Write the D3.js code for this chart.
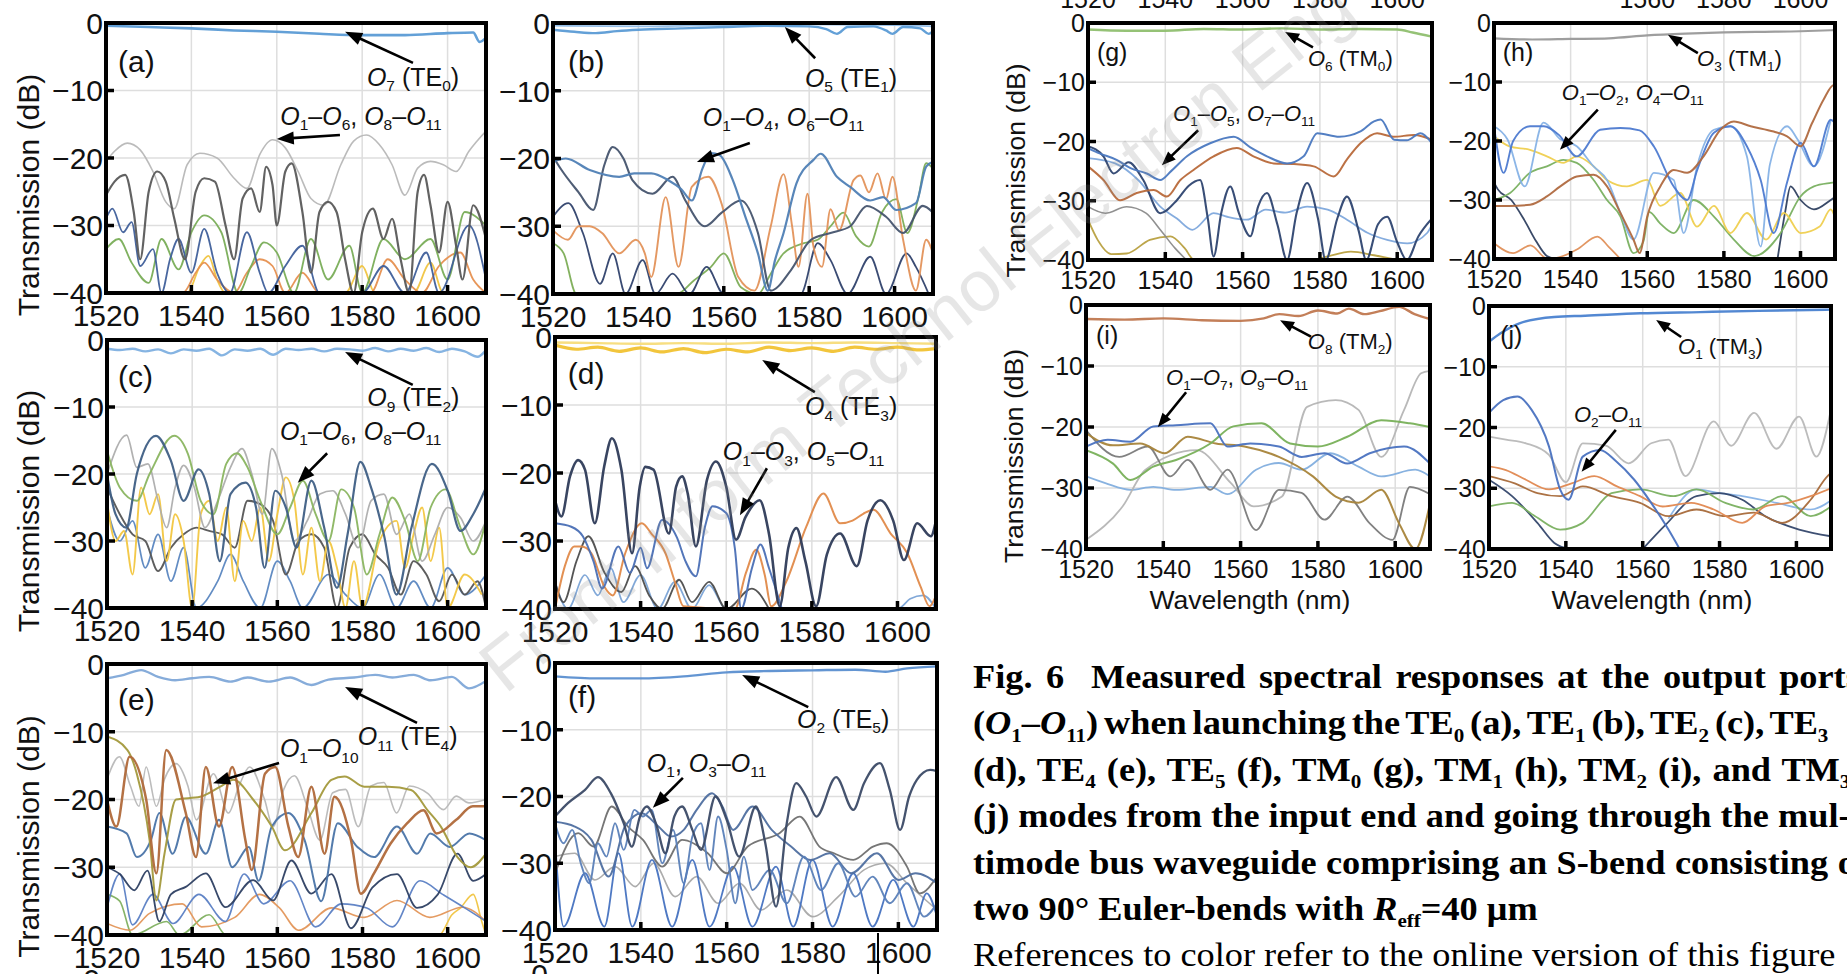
<!DOCTYPE html>
<html><head><meta charset="utf-8">
<script src="https://cdn.jsdelivr.net/npm/d3@7"></script>
<style>body{margin:0;background:#fff;overflow:hidden} svg{display:block} text{white-space:pre}</style>
</head><body>
<svg id="chart" width="1847" height="974"></svg>
<script>
// ---------- shared ticks ----------
const xTicks = [1520,1540,1560,1580,1600];
const yTicks = [0,-10,-20,-30,-40];
const xDomain = [1520,1609];
const yDomain = [-40,0];

// ---------- panel (a) ----------
const aMain = [[1520,-0.4],[1530,-0.6],[1540,-0.8],[1550,-1.1],[1560,-1.3],[1570,-1.6],[1580,-1.8],[1590,-1.8],[1600,-1.5],[1606,-1.4],[1607.5,-2.8],[1609,-2.2]];
const aGrayLight = [[1520,-20.5],[1522,-19],[1525,-17.8],[1528,-18.8],[1531,-22],[1534,-26.5],[1536,-27.5],[1539,-21],[1542,-19.3],[1546,-20],[1550,-23],[1553,-24.5],[1556,-19.5],[1559,-17.3],[1562,-18.5],[1565,-22],[1568,-26],[1571,-27],[1575,-21],[1578,-17.5],[1581,-16.6],[1584,-18],[1587,-21],[1590,-25.5],[1593,-21.5],[1596,-20.5],[1599,-21],[1602,-22],[1605,-19],[1609,-16]];
const aGrayDark = [[1520,-25.5],[1522,-23.5],[1524.5,-22.5],[1526.5,-28],[1528,-35],[1530,-25],[1532,-22],[1534,-23.5],[1536,-29],[1538.5,-35],[1541,-25],[1543,-23],[1545.5,-23.5],[1548,-30],[1550,-35],[1552,-26],[1554,-24.5],[1556,-28],[1557.5,-21.3],[1559,-24],[1560,-30],[1562,-22],[1563.5,-20.8],[1566,-28],[1568,-37],[1570,-28],[1572,-26.5],[1574,-28],[1576,-35],[1578,-40],[1580,-31],[1582.5,-27.5],[1585,-32],[1587,-29],[1589,-35],[1591,-40],[1593,-25],[1594.5,-22.5],[1596,-27],[1598,-34],[1600,-26.5],[1602,-33],[1603.5,-38],[1606,-27],[1609,-32]];
const aBlue = [[1520,-29],[1521.5,-27.5],[1524,-31],[1526,-29.5],[1528,-36],[1531,-33.5],[1533,-40],[1535,-35],[1537,-32],[1540,-37],[1543,-30.5],[1546,-37],[1549,-40],[1553,-31],[1556,-37],[1558,-40],[1562,-36],[1566,-33],[1570,-40],[1580,-40],[1585,-36],[1590,-40],[1595,-34],[1598,-40],[1605,-30],[1609,-38]];
const aGreen = [[1520,-33.5],[1523,-32],[1526,-35.5],[1530,-38.5],[1533,-32],[1537,-36.5],[1540,-31],[1543,-28.5],[1547,-31],[1551,-40],[1554,-36],[1557,-32.5],[1560,-34],[1564,-40],[1568,-32],[1572,-38],[1577,-33],[1580,-40],[1585,-32],[1590,-35],[1596,-32],[1600,-38],[1604,-28],[1609,-30]];
const aOrange = [[1520,-40],[1538,-40],[1541,-37],[1543,-35.5],[1546,-38],[1550,-40],[1553,-37],[1556,-35],[1559,-36],[1562,-40],[1566,-37],[1570,-40],[1582,-40],[1586,-35],[1590,-38],[1594,-40],[1598,-36],[1603,-34],[1606,-38],[1609,-40]];
const aYellow = [[1520,-40],[1539,-40],[1542,-36],[1544,-34.5],[1546,-38],[1548,-40],[1576,-40],[1580,-36],[1583,-40],[1592,-40],[1596,-35.5],[1599,-40],[1609,-40]];

// ---------- panel (b) ----------
const bMain = [[1520,-1],[1525,-1.3],[1530,-1.5],[1535,-1.2],[1540,-1],[1550,-0.8],[1560,-0.6],[1570,-0.4],[1580,-0.5],[1584,-0.9],[1586.5,-1.6],[1589,-0.6],[1595,-0.5],[1598,-1.1],[1599.5,-1.6],[1602,-0.6],[1606,-0.8],[1608,-1.6],[1609,-1.2]];
const bMain2 = [[1520,-0.4],[1540,-0.5],[1560,-0.3],[1580,-0.2],[1600,-0.3],[1609,-0.5]];
const bSteel = [[1520,-20.5],[1523,-20],[1528.6,-21.7],[1535.5,-22.7],[1539,-22.2],[1543,-22.2],[1547,-23.2],[1550,-24.5],[1552.5,-26.2],[1555,-21.5],[1557,-19.2],[1559,-19.5],[1562,-23],[1565,-28.5],[1568,-34],[1570.3,-39.5],[1572,-35],[1574,-31],[1577,-23.7],[1581,-20.2],[1582.7,-19.3],[1586.5,-22.7],[1589.6,-24.2],[1594.3,-26.2],[1597.3,-25.7],[1600.4,-27.6],[1605,-26.6],[1607.4,-21.2],[1609,-20.5]];
const bSlate = [[1520,-19.7],[1522,-21.7],[1526,-25],[1529.4,-27.6],[1532,-21],[1534,-18.3],[1536.5,-20],[1538.6,-23.2],[1543.3,-25.2],[1548,-22.7],[1551,-26.2],[1555.6,-30],[1559.5,-28],[1564,-26.2],[1568,-31],[1571,-39.5],[1575.7,-36.5],[1580.4,-32],[1585,-31],[1589.6,-30],[1593.5,-27],[1598,-28.6],[1602,-31],[1606.6,-27],[1609,-28]];
const bOrange = [[1520,-30.6],[1523.5,-32],[1526,-30],[1528.6,-30],[1531.5,-31],[1535.5,-34],[1539.4,-32],[1541.5,-34],[1543,-37.5],[1546.4,-25.7],[1549.4,-36],[1552.5,-24.2],[1556.4,-22.7],[1559.5,-26.7],[1563.4,-37.5],[1567.2,-39.5],[1571,-30],[1574,-22.3],[1576,-30],[1577.5,-36],[1579.6,-25.2],[1581,-33],[1583,-36],[1585,-27.5],[1587,-30.6],[1590.4,-23.2],[1592,-22.5],[1594,-25],[1596,-22.2],[1598,-26],[1599.5,-22.7],[1602,-32],[1605,-39.5],[1607.4,-32],[1609,-34]];
const bNavy = [[1520,-28.6],[1523.6,-26.6],[1527,-31],[1531,-38.5],[1534,-34],[1537,-40],[1541,-35],[1544,-40],[1548,-37],[1552,-40],[1556,-36],[1560,-40],[1578,-40],[1582,-32.5],[1585,-35],[1589,-40],[1594.3,-34.5],[1598,-40],[1602.8,-34],[1605,-36],[1608,-40]];
const bGreen = [[1520,-32.5],[1522.5,-34],[1525.5,-40],[1549,-40],[1553,-38],[1557,-36],[1560,-34],[1564,-39],[1568,-40],[1571,-37],[1574,-34],[1578.8,-32.5],[1582,-32],[1585,-30],[1588,-28],[1591,-31.5],[1594,-33],[1597,-28],[1600.4,-26],[1603,-31],[1605.5,-26],[1607.4,-20.7],[1609,-21.5]];

// ---------- panel (c) ----------
const cMain = [[1520,-1.3],[1523,-1.5],[1526,-1.3],[1529,-1.7],[1532,-1.4],[1535,-2],[1538,-1.4],[1541,-1.6],[1544,-1.3],[1547,-2.3],[1550,-1.4],[1553,-1.6],[1556,-1.3],[1559,-2.2],[1562,-1.3],[1565,-1.5],[1568,-1.3],[1571,-1.7],[1574,-1.3],[1577,-1.4],[1580,-1.6],[1583,-1.2],[1586,-1.7],[1589,-1.3],[1592,-1.6],[1595,-1.2],[1598,-1.8],[1601,-1.3],[1604,-1.7],[1607,-2.5],[1609,-1.5]];
const cSteel = [[1520,-20],[1522,-26],[1524.5,-28],[1527,-20],[1531.5,-14.3],[1535,-18],[1538,-24],[1541.5,-19.3],[1544,-23],[1546.5,-33],[1549,-23],[1552.5,-21.3],[1555,-25],[1557,-34],[1559.5,-22.5],[1562,-25],[1564.5,-31],[1568,-21],[1571,-28],[1574,-37],[1576.5,-29],[1579.5,-18.2],[1582,-22],[1585,-29],[1588,-38],[1591.5,-28],[1596.3,-18.5],[1600,-22.5],[1603,-28.5],[1606,-26],[1609,-22]];
const cGreen = [[1520,-16.5],[1523,-22],[1527,-24],[1530,-20],[1535.8,-14.3],[1539,-17],[1542,-24],[1545,-26],[1548,-18.5],[1550.5,-16.9],[1553,-19],[1556,-24],[1560,-29],[1563,-25],[1566,-21],[1569,-26],[1572,-30],[1575,-22.3],[1578,-25],[1581,-35],[1584,-29],[1587,-23.5],[1590,-27],[1593,-33],[1596,-25],[1599.5,-22.3],[1603,-28],[1606,-32],[1609,-27]];
const cGrayLight = [[1520,-20],[1524.6,-14.2],[1527,-19],[1529.6,-18.5],[1532,-24],[1534,-28],[1536,-22],[1538,-18.7],[1540.5,-22],[1543,-28],[1546,-24],[1549,-19],[1551.7,-16.2],[1554,-20],[1556.5,-26],[1558.7,-16.2],[1561,-20],[1564,-30],[1567,-27],[1570,-23],[1573,-22.5],[1576,-26],[1579,-31],[1582,-24],[1585,-23],[1588,-29],[1591,-26],[1594,-33],[1597,-29],[1600,-25],[1603,-26.5],[1606,-30],[1609,-27]];
const cYellow = [[1520,-24],[1522,-30],[1524,-28.5],[1526,-35],[1528,-22],[1530,-26],[1532,-23],[1534,-33],[1536,-26],[1538,-30],[1540,-40],[1542,-26],[1544,-24],[1546,-30],[1548,-25],[1550,-36],[1552,-27],[1554,-30],[1556,-25],[1558,-33],[1560,-26],[1562,-20.5],[1564,-24],[1566,-35],[1568,-28],[1570,-36],[1572,-30],[1574,-34],[1576,-40],[1578,-33],[1580,-40],[1584,-30],[1588,-27],[1590,-34],[1592,-29],[1594,-25],[1596,-33],[1598,-28],[1600,-40],[1604,-35],[1608,-38]];
const cGrayDark = [[1520,-22],[1523,-26],[1526,-29],[1529,-30],[1532,-34.5],[1535,-31],[1538,-29],[1541,-28],[1544,-28.5],[1547,-29],[1550,-31],[1553,-24],[1556,-24.5],[1559,-27],[1562,-35],[1565,-30],[1568,-29],[1571,-31],[1574,-40],[1577,-31],[1580,-29],[1583,-32],[1586,-34],[1589,-38],[1592,-33],[1595,-35],[1598,-39],[1601,-35],[1604,-38],[1607,-36],[1609,-40]];
const cBlue = [[1520,-25],[1523,-30],[1526,-27],[1529,-34],[1532,-29],[1535,-36],[1538,-31],[1541,-40],[1546,-36],[1549,-32],[1552,-36],[1556,-40],[1560,-33],[1563,-36],[1566,-40],[1572,-35],[1576,-38],[1580,-40],[1584,-35],[1588,-40],[1592,-36],[1596,-40],[1600,-34],[1604,-38],[1609,-35]];

// ---------- panel (d) ----------
const dMain = [[1520,-1.2],[1525,-1.8],[1530,-1.5],[1535,-2.1],[1540,-1.6],[1545,-2.2],[1550,-1.7],[1555,-2.3],[1560,-1.8],[1565,-2.2],[1570,-1.5],[1575,-2],[1580,-1.6],[1585,-2.1],[1590,-1.5],[1595,-1.8],[1600,-1.5],[1605,-1.9],[1609,-1.7]];
const dMain2 = [[1520,-0.8],[1530,-0.9],[1540,-1],[1550,-0.9],[1560,-1],[1570,-0.8],[1580,-0.9],[1590,-0.8],[1600,-0.9],[1609,-1]];
const dNavy = [[1520,-24],[1521.5,-26.4],[1523.5,-20.5],[1525.4,-18.1],[1527,-19.5],[1529.3,-27.4],[1531.5,-19],[1533.3,-14.9],[1535.5,-19.5],[1538,-31.8],[1539.8,-22],[1541.1,-19.1],[1543,-19.5],[1546.6,-28.9],[1548.3,-22],[1549.7,-20.5],[1551,-23],[1552.9,-30.8],[1555.5,-21],[1557.6,-18.3],[1560,-22],[1562.3,-29.8],[1564.5,-26.5],[1567.8,-24],[1570,-29],[1572.5,-39.6],[1574.5,-31],[1576.4,-28.1],[1578.5,-33],[1581,-39.6],[1583.5,-32],[1586.6,-28.9],[1590.5,-33.7],[1593,-27],[1596,-24],[1599,-27],[1601.5,-32.8],[1604.6,-27.4],[1607.8,-29.3],[1609,-27]];
const dBlue = [[1520,-27.4],[1523.8,-27.9],[1526.5,-29.3],[1529,-33],[1531,-37],[1534.8,-30.8],[1537.5,-34.7],[1540,-31],[1541.5,-34],[1545,-26.9],[1548.5,-29.5],[1550.5,-33],[1552.9,-35.2],[1555,-28],[1556.8,-24.9],[1560,-25.9],[1562,-31],[1563.5,-40],[1566,-34],[1568,-30.5],[1570,-34],[1573,-40]];
const dOrange = [[1520,-40],[1522.3,-33.7],[1524.5,-30.8],[1526.2,-30.8],[1528.5,-31.8],[1531.5,-36.7],[1533.5,-38],[1536.4,-31.8],[1540.3,-27.4],[1542.5,-28.9],[1545.8,-31.8],[1548,-36],[1550,-39.6],[1562,-40],[1564.6,-34.7],[1567,-31.3],[1569,-35],[1570.5,-39.6],[1574,-36],[1578.7,-27.9],[1582.7,-23],[1586.6,-27.4],[1589.5,-27],[1592,-26],[1594.4,-25.4],[1598.4,-28.9],[1602.3,-31.8],[1605.4,-36.7],[1607.5,-39.6],[1609,-38]];
const dGray = [[1520,-36],[1522,-39],[1525,-33],[1527.8,-29.3],[1531.6,-34.7],[1535.5,-37.5],[1538.7,-33.7],[1542,-38],[1545,-40],[1549,-35.7],[1552,-39],[1556,-36],[1560,-40],[1566,-37],[1570,-40]];
const dLightBlue = [[1520,-36],[1523,-40],[1527,-35],[1530,-38],[1533,-34],[1536,-39],[1540,-35],[1544,-40],[1548,-36],[1552,-40],[1556,-36.5],[1560,-40],[1600,-40],[1603,-38.5],[1606,-38],[1609,-40]];

// ---------- panel (e) ----------
const eMain = [[1520,-2.1],[1524,-1.6],[1528,-0.9],[1532,-1.9],[1536,-2.4],[1540,-2.1],[1544,-1.9],[1549,-2.6],[1553,-2],[1558,-2.6],[1563,-2],[1568,-3.1],[1572,-2.3],[1578,-2],[1583,-1.6],[1587,-2],[1592,-1.6],[1596,-2.4],[1601,-1.9],[1605,-3.6],[1609,-2.5]];
const eBrown = [[1520,-20],[1522.2,-24],[1525.3,-13.7],[1529.2,-20],[1531.6,-30.9],[1533.9,-12.7],[1538.5,-22],[1540.9,-28.5],[1543.2,-15.2],[1546.3,-24],[1549.4,-15.2],[1552.5,-26],[1554,-30.4],[1557.1,-16.2],[1559.5,-15.2],[1562.6,-24],[1564.9,-28.5],[1568,-18.1],[1571.1,-28],[1573.4,-19.6],[1577.3,-26],[1579.6,-33.9],[1582.7,-30.9],[1586.6,-26.5],[1590.5,-23.5],[1594.3,-21.6],[1597.4,-25],[1602,-23],[1605.9,-21],[1609,-21]];
const eOlive = [[1520,-10.7],[1524.8,-12.7],[1527,-16.2],[1530,-26],[1531.6,-34.9],[1533.5,-28],[1536.2,-20],[1541.9,-19.6],[1546.6,-18.1],[1549.7,-17.1],[1554.3,-20],[1558.7,-24],[1561.8,-27.5],[1568,-22],[1572.7,-17.1],[1575.8,-16.6],[1580.4,-18.1],[1586,-18.1],[1591.4,-18.6],[1595.3,-21.6],[1598.4,-24],[1602.3,-28.5],[1605.4,-30],[1609,-28]];
const eGrayLight = [[1520,-17],[1522.9,-13.7],[1525.5,-18],[1527.5,-21],[1529.2,-15.2],[1531.6,-21],[1533.5,-17],[1536.2,-14.7],[1539,-18],[1541,-23],[1545,-16.2],[1548.5,-22],[1551,-18],[1553.5,-15.2],[1557,-20],[1559,-24],[1561.5,-18.5],[1564,-16.5],[1567,-21],[1570,-26],[1573,-19],[1576,-18.5],[1579,-24],[1582,-18],[1585,-17.5],[1588,-22],[1591,-18],[1595.3,-19.1],[1599,-21.5],[1602,-19.5],[1605,-20.5],[1609,-20]];
const eSteel = [[1520,-24],[1524.6,-25],[1527,-28.5],[1530.3,-26],[1532.3,-22],[1535.4,-28],[1538.5,-22.6],[1543.2,-28],[1546.3,-23],[1549.4,-30],[1553.3,-27],[1555.6,-32],[1558.7,-24],[1562.6,-22],[1566.4,-26],[1570.3,-35],[1574.2,-23.5],[1578.8,-27],[1582.7,-28.5],[1588.1,-24],[1592.8,-28],[1595.9,-25],[1600.5,-27],[1605.1,-25],[1609,-26]];
const eNavy = [[1520,-30],[1523,-31],[1526.4,-33.4],[1529.5,-30.5],[1532.3,-38],[1535,-34],[1538.5,-32.9],[1543.2,-30.9],[1547.8,-35.9],[1554.3,-31.9],[1559,-34.9],[1563.3,-29],[1568,-33.9],[1572.7,-31],[1577.3,-39],[1582.3,-33],[1588.1,-31],[1592.8,-36],[1597.7,-34],[1602.3,-28],[1606,-32],[1609,-31]];
const eBlue = [[1520,-36],[1523,-31],[1526,-38.5],[1530.8,-34],[1535.5,-38.3],[1541.6,-34],[1547.8,-38],[1552.2,-31],[1556.8,-35.4],[1563,-32],[1569,-38.8],[1575,-35.4],[1581,-36],[1587,-38.8],[1593.5,-32],[1598.8,-34],[1604,-36],[1609,-38]];
const eOrange = [[1520,-38.3],[1525.4,-39.3],[1530,-36.8],[1537.7,-35.4],[1542.2,-38.8],[1550,-37.4],[1555.8,-34],[1560.5,-36],[1565,-39.3],[1572.7,-36],[1580.4,-37.4],[1588.1,-34.9],[1595.8,-37.4],[1603.5,-35.9],[1609,-38]];
const eGreen = [[1520,-34],[1523,-35],[1526,-40],[1534,-38],[1537,-40],[1544,-37],[1548,-40],[1609,-40]];
const eYellow = [[1520,-40],[1598,-40],[1601,-37],[1603,-36],[1606,-34],[1608,-38],[1609,-40]];

// ---------- panel (f) ----------
const fMain = [[1520,-2],[1530,-2.3],[1540,-2.3],[1550,-2],[1560,-1.4],[1570,-1.2],[1580,-1.1],[1590,-1],[1597,-1.3],[1602,-0.8],[1609,-0.5]];
const fSlate = [[1520,-23],[1523,-21],[1527,-19],[1530,-17.1],[1533,-19.5],[1536,-24],[1537.9,-27.5],[1539.8,-23],[1541.4,-21.5],[1543.5,-24],[1545.7,-28.5],[1547.8,-23],[1549.6,-21.5],[1552,-25],[1554,-28],[1557.4,-20],[1560,-23.5],[1562.9,-29],[1566.8,-21.5],[1569,-27],[1571.5,-36.5],[1574,-24],[1576.2,-18],[1578.5,-20],[1580.9,-23],[1585.5,-17.1],[1589.5,-22],[1592,-18],[1595.7,-15],[1598,-19],[1600.4,-25],[1602.5,-20],[1604.3,-17.5],[1607.4,-16],[1609,-16.2]];
const fSteel = [[1520,-23.8],[1524.6,-24.5],[1528.5,-26.5],[1532.5,-32],[1536.3,-24.5],[1540.2,-22.5],[1544.1,-24.5],[1547,-26],[1550,-25],[1553,-22],[1556.6,-19.5],[1559,-21.5],[1561.5,-25],[1566,-21.5],[1570.5,-25],[1575,-27.5],[1579.5,-29.5],[1584,-28.5],[1589,-31.5],[1595,-28.5],[1600,-32.5],[1604,-31.5],[1609,-33]];
const fSteel2 = [[1520,-24],[1522,-27],[1524,-25],[1526,-30],[1528,-33],[1530,-27],[1532,-29],[1534,-24],[1536,-28],[1538.5,-22],[1540.5,-23],[1542.5,-22],[1545,-30],[1547.5,-25],[1550,-33],[1552,-26],[1554,-24],[1556,-31],[1558,-23],[1560,-28],[1562,-36],[1564,-29],[1566,-34],[1570,-31],[1574,-36],[1578,-29],[1582,-34],[1586,-30],[1590,-35],[1594,-32],[1598,-36],[1602,-33],[1606,-38],[1609,-36]];
const fGray = [[1520,-31.5],[1525.4,-25.5],[1529,-27.5],[1533.2,-21.5],[1537,-24.5],[1540.5,-26.5],[1545,-30.5],[1549.6,-26.5],[1555.6,-28.5],[1560,-31.5],[1564.9,-27.5],[1572.3,-25.5],[1577,-23],[1581.6,-27.5],[1585,-28.5],[1589.5,-29.5],[1594.1,-27.5],[1597.3,-27],[1602,-30.5],[1605,-34.5],[1609,-32]];
const fBlue = [[1520,-26.5],[1522,-39.5],[1527,-31.5],[1531.5,-39.5],[1534.8,-28.5],[1538,-39.5],[1542.6,-29.5],[1547.3,-39.5],[1552,-29.5],[1556,-39.5],[1561.5,-30.5],[1566,-39.5],[1571.5,-30.5],[1575.5,-39.5],[1580,-29.5],[1584.7,-39.5],[1589.5,-31.5],[1594,-39.5],[1598.8,-32.5],[1603.5,-39.5],[1606.6,-34.5],[1609,-38]];
const fGrayLight = [[1520,-29],[1524.6,-28.5],[1529.3,-32.5],[1534,-30.5],[1538.7,-33.5],[1543,-30],[1548,-35],[1553,-32],[1558,-36],[1563,-33],[1568,-37],[1574,-34],[1580,-38],[1586,-35],[1592,-31],[1597,-30],[1602,-33],[1609,-37]];

// ---------- panel (g) ----------
const gMain = [[1520,-1.1],[1530,-1.3],[1540,-1.3],[1550,-1],[1560,-1.1],[1570,-0.9],[1580,-1.1],[1590,-1],[1600,-1.1],[1604,-1.6],[1609,-2.3]];
const gBlue = [[1520,-21.1],[1523,-22],[1527.4,-23.1],[1531,-24.5],[1535.2,-25.4],[1538.7,-26.5],[1541.5,-25],[1545.6,-22.5],[1551.6,-20.3],[1557.7,-19.2],[1562,-21],[1566.3,-22.5],[1571.5,-23.7],[1575.8,-22.5],[1579.3,-18.6],[1585,-19.2],[1590.5,-18.3],[1594,-16.6],[1595.7,-16.3],[1599.2,-19.7],[1602.5,-19.8],[1606,-18.6],[1609,-20.3]];
const gBrown = [[1520,-24.2],[1524,-26.5],[1528.3,-29.9],[1532.6,-28.7],[1537,-28.2],[1540.4,-29.3],[1543.9,-26.5],[1547.3,-24.8],[1552.5,-22.5],[1558.5,-21.1],[1562.8,-22.5],[1568,-23.7],[1573,-23.8],[1578.4,-24.2],[1583.6,-25.9],[1587,-23],[1590.5,-20.3],[1594.8,-18.6],[1599,-19.2],[1604.4,-18.9],[1609,-19.7]];
const gNavy = [[1520,-20.8],[1524,-22.5],[1526.6,-25.4],[1530.5,-23.5],[1534.3,-26.5],[1538.7,-32.1],[1543,-29.9],[1546,-27.5],[1549,-26.5],[1551,-33],[1552.5,-39.4],[1554.5,-32],[1556.8,-27.6],[1559,-32],[1562,-36],[1564,-31],[1566.3,-28.7],[1569,-34],[1571.5,-40],[1574,-32],[1576.7,-27],[1579.5,-33],[1581.5,-40],[1584.5,-33],[1587,-29.3],[1590,-35],[1592,-40],[1595,-34],[1597.4,-32.7],[1600,-37],[1602.5,-40],[1605.5,-36],[1609,-33]];
const gLightBlue = [[1520,-22.8],[1527,-23.7],[1533,-26.5],[1538.7,-31],[1543,-33],[1547,-34.9],[1552.5,-32.1],[1556,-32.7],[1561.1,-33.2],[1566,-31.5],[1571,-32],[1576.7,-31],[1582,-31.5],[1587,-33.2],[1592.3,-35.4],[1597.4,-36.6],[1602.6,-37.2],[1607.8,-35.4],[1609,-34]];
const gGray = [[1520,-31],[1524.5,-32.1],[1530,-31],[1535,-32.1],[1538.7,-34.9],[1542.5,-38],[1545.5,-40]];
const gOlive = [[1520,-33.2],[1522.5,-36.6],[1526,-39],[1530,-38.9],[1536,-36.6],[1541.3,-36],[1545,-38],[1547.5,-40],[1578,-40],[1582,-39.4],[1588,-38.6],[1594,-39.2],[1600,-40]];

// ---------- panel (h) ----------
const hMain = [[1520,-2.6],[1530,-2.8],[1540,-2.7],[1550,-2.6],[1560,-2.1],[1570,-1.8],[1580,-1.6],[1590,-1.5],[1600,-1.4],[1609,-1.2]];
const hBrown = [[1520,-31],[1524,-31],[1529.4,-30.8],[1533.8,-29.4],[1537.3,-27.7],[1541.6,-26],[1546,-25.7],[1549.5,-27.7],[1553,-32.2],[1556.4,-36.7],[1558,-39],[1560,-32.8],[1563.4,-27.7],[1566.9,-24.9],[1570.4,-25.4],[1574.7,-22.6],[1579.1,-18.1],[1582.6,-16.7],[1587,-17.5],[1593,-18.4],[1596.5,-19.2],[1600,-20.9],[1603,-17],[1606,-13],[1608.7,-10.5],[1609,-10.8]];
const hBlue = [[1520,-17.5],[1522.5,-25.4],[1525,-20],[1529.4,-17.5],[1533,-17.5],[1537,-19],[1541.6,-22.6],[1547.7,-18.1],[1553,-17.8],[1558,-18.2],[1561.7,-20.9],[1566.9,-27.7],[1570.4,-30],[1573,-25],[1577.4,-18.6],[1581.7,-17.5],[1586,-20.9],[1589.6,-26.6],[1593,-35.6],[1596.5,-27],[1600,-20.3],[1603.5,-24.3],[1607.9,-16.4],[1609,-17]];
const hLightBlue = [[1520,-17.5],[1523.5,-19.7],[1528,-27.7],[1532.9,-16.9],[1537.3,-19.7],[1541.6,-20.9],[1546,-24.3],[1549.5,-26.6],[1553,-32.2],[1556.4,-36.7],[1561.7,-25.4],[1566.9,-26.6],[1569.5,-35.6],[1573,-24.3],[1577.4,-18.1],[1581.7,-17.5],[1586,-22.6],[1589.6,-37.9],[1592,-24],[1596.5,-17.5],[1599.2,-19.7],[1603.5,-24.3],[1607.9,-16.4]];
const hYellow = [[1520,-19.2],[1524,-20.9],[1529.4,-21.5],[1533.8,-22.6],[1538.1,-23.7],[1541.6,-22.6],[1546,-24.3],[1549.5,-26.6],[1554.7,-27.7],[1560,-26.6],[1563.4,-31],[1568.6,-28.8],[1573,-34.5],[1577.4,-31],[1581.7,-35.6],[1586,-32.2],[1591,-36.7],[1595.7,-32.2],[1600,-35.6],[1605,-34.5],[1607.9,-31.6],[1609,-33]];
const hGreen = [[1520,-30],[1524.2,-28.8],[1529.4,-25.4],[1533.8,-24.3],[1538.1,-23.2],[1541.6,-23.7],[1546,-26.6],[1549.5,-30],[1553,-32.8],[1556.4,-39],[1559,-37],[1560.5,-32],[1563.4,-34],[1566.9,-35.6],[1572.1,-30],[1577.4,-32.8],[1582.6,-36.7],[1587.9,-39.5],[1594.8,-35.6],[1600,-29.4],[1603.5,-27.7],[1607.9,-27.1],[1609,-27]];
const hNavy = [[1520,-27],[1521,-28.2],[1524.5,-30],[1528,-33.5],[1531,-37],[1533.8,-39.5],[1536,-40]];
const hNavy2 = [[1594,-40],[1596,-32],[1597.4,-27.7],[1600,-30],[1603.5,-31.6],[1607.9,-30],[1609,-29.5]];
const hOrange = [[1520,-37.3],[1525,-39],[1529.5,-37.7],[1534,-40],[1538,-39.5],[1541.6,-38.4],[1547,-36.2],[1550,-38],[1553,-40]];

// ---------- panel (i) ----------
const iMain = [[1520,-2.3],[1530,-2.4],[1540,-2.2],[1550,-2.5],[1560,-2.6],[1566,-2.2],[1570,-1.5],[1575,-1.8],[1580,-0.9],[1585,-1.4],[1588,-0.6],[1592,-1.5],[1596,-1],[1601,-0.3],[1605,-1.5],[1609,-2.3]];
const iBlue = [[1520,-23.2],[1525.6,-22.1],[1531.5,-22.4],[1537.4,-19.9],[1543.3,-19.7],[1552.2,-19.4],[1556.6,-23.2],[1562.5,-22.7],[1569.9,-23.2],[1575.8,-24.9],[1581.7,-24.3],[1587.6,-26],[1593.4,-24.3],[1602.3,-23.2],[1609,-26]];
const iGreen = [[1520,-23.8],[1527,-26],[1531.5,-28.7],[1537.4,-26.5],[1543.3,-25.4],[1552.2,-22.7],[1558.1,-19.9],[1565.4,-19.4],[1572.8,-22.7],[1580,-23.2],[1587.6,-21.6],[1596.4,-18.9],[1603.8,-19.4],[1609,-20]];
const iOlive = [[1520,-21],[1527,-23],[1534,-22.7],[1540.4,-24.3],[1546.3,-21.6],[1553.6,-22.7],[1561,-23.2],[1569.9,-24.9],[1578.7,-28.1],[1584.6,-31.4],[1590.5,-32.4],[1596.4,-30.3],[1601,-35.8],[1605.2,-40],[1609,-32.5]];
const iGray = [[1520,-20.5],[1528.6,-24.9],[1536,-23.2],[1541.8,-28.1],[1546.3,-25.4],[1552.2,-30.3],[1556.6,-27],[1564,-36.9],[1569.9,-30.3],[1575.8,-30.8],[1581.7,-35.2],[1587.6,-31.4],[1593.4,-35.8],[1599.3,-38.5],[1603.8,-29.8],[1609,-31]];
const iGrayLight = [[1520,-38.5],[1529.5,-33],[1535.4,-27],[1548.6,-23.8],[1557.5,-29.2],[1563.4,-33],[1570.7,-31.4],[1577.2,-16.7],[1584.6,-15.6],[1590.5,-17.2],[1596.4,-24.9],[1602.3,-17.2],[1606.7,-11.2],[1609,-10.8]];
const iLightBlue = [[1520,-28.1],[1525,-29.2],[1531.5,-30.3],[1537.4,-29.8],[1543.3,-30.3],[1552.2,-29.8],[1556.6,-31],[1564,-27],[1569.9,-25.9],[1575.8,-27],[1583.2,-24.3],[1590.5,-26.5],[1596.4,-28.1],[1605.2,-27],[1609,-28.1]];

// ---------- panel (j) ----------
const jMain = [[1520,-5.9],[1523,-4.5],[1528.1,-2.8],[1537,-1.8],[1545,-1.6],[1559.3,-1.2],[1575,-1],[1590,-0.8],[1609,-0.6]];
const jBlue = [[1520,-17.6],[1523.7,-15.5],[1527.4,-14.9],[1531.1,-17.1],[1535.6,-23.1],[1538.5,-30.2],[1540.7,-31.9],[1544.4,-24.8],[1548.9,-23.7],[1553,-25.5],[1557.8,-28.6],[1562.2,-32.4],[1566.7,-36.8],[1569.6,-40]];
const jGrayLight = [[1520,-21.5],[1524.4,-22],[1529.6,-22.6],[1535.6,-24.5],[1540,-29],[1544.4,-22.6],[1550.4,-23],[1556.3,-25.9],[1562.2,-22.6],[1566.7,-22],[1571.1,-28],[1578.5,-19],[1583,-23],[1589,-17.6],[1594.8,-23.5],[1600.7,-18.2],[1605.2,-24.8],[1609,-17]];
const jOrange = [[1520,-26.4],[1524.4,-27],[1529.6,-28.6],[1535.6,-30.2],[1541.5,-29.2],[1547.4,-28],[1553.3,-29.7],[1559.3,-31.3],[1565.2,-33],[1572.6,-32.4],[1578.5,-33.5],[1585.9,-35.7],[1591.9,-33],[1597.8,-32.4],[1603.7,-31.3],[1609,-30]];
const jBrown = [[1520,-28],[1526.7,-29.2],[1532.6,-30.8],[1538.5,-31.3],[1544.4,-29.7],[1551.9,-31.3],[1559.3,-32.4],[1566.7,-34.6],[1574,-33.5],[1581.5,-34.6],[1588.9,-34],[1596.3,-35.7],[1603.7,-31.9],[1608.1,-28],[1609,-27.5]];
const jGreen = [[1520,-33],[1526,-32.4],[1532,-34.6],[1538.5,-36.8],[1544.4,-35.7],[1551.9,-30.8],[1559.3,-30.2],[1568,-31.3],[1574,-30.2],[1581.5,-32.4],[1588.9,-33.5],[1596.3,-31.3],[1603.7,-34.6],[1609,-33]];
const jNavy = [[1520,-28.6],[1526,-31.3],[1532.6,-35.7],[1537,-39],[1541,-40]];
const jNavy2 = [[1560,-40],[1566,-36],[1574,-31.3],[1580,-30.8],[1585.9,-31.9],[1591.9,-34.6],[1600.7,-36.8],[1609,-37.9]];
const jLightBlue = [[1566.7,-35],[1574,-30.2],[1580,-30.8],[1585.9,-31.3],[1594.8,-32.4],[1603.7,-33.5],[1609,-32]];

// ---------- caption ----------
const captionLines = [
 "Fig. 6  Measured spectral responses at the output ports",
 "(O_1–O_11) when launching the TE_0 (a), TE_1 (b), TE_2 (c), TE_3",
 "(d), TE_4 (e), TE_5 (f), TM_0 (g), TM_1 (h), TM_2 (i), and TM_3",
 "(j) modes from the input end and going through the mul-",
 "timode bus waveguide comprising an S-bend consisting of",
 "two 90° Euler-bends with R_eff=40 μm",
 "References to color refer to the online version of this figure"
];
const captionWordSpacing = [4.4, -3.2, 2, 0, 0.4, 0, 0];

// ---------- panel layout ----------
const panels = [
 {box:[106,23,486,293], big:true, yTitle:true, label:['(a)',1522.8,-7.3],
  main:['O_7 (TE_0)',1581.1,-9.3, 1591.9,-5.9, 1576.0,-1.3], xt:['O_1–O_6, O_8–O_11',1560.8,-15.1, 1574.8,-16.6, 1560.0,-17.2],
  curves:[[aGrayLight,'#b7b7b7',1.6],[aYellow,'#f0c441',1.8],[aOrange,'#e69050',1.8],[aGreen,'#79ad57',1.8],[aBlue,'#3f5f9a',1.8],[aGrayDark,'#5a5a5a',2.2],[aMain,'#5b9bd5',2.6]]},
 {box:[553,23,933,294], big:true, yTitle:false, label:['(b)',1523.5,-7.2],
  main:['O_5 (TE_1)',1579.0,-9.4, 1581.4,-5.2, 1574.3,-0.6], xt:['O_1–O_4, O_6–O_11',1555.1,-15.2, 1566.1,-17.7, 1553.7,-20.5],
  curves:[[bGreen,'#7cad56',1.8],[bNavy,'#2f416b',1.8],[bOrange,'#e3925a',1.9],[bSlate,'#46546e',2.1],[bSteel,'#4f7fb5',2.2],[bMain2,'#8fbbe6',1.8],[bMain,'#5b9bd5',2.4]]},
 {box:[107,340,486,608], big:true, yTitle:true, label:['(c)',1522.6,-7.0],
  main:['O_9 (TE_2)',1581.1,-9.9, 1591.8,-6.7, 1575.9,-1.8], xt:['O_1–O_6, O_8–O_11',1560.6,-14.9, 1571.7,-16.9, 1564.8,-21.3],
  curves:[[cBlue,'#5a86c0',1.7],[cGrayDark,'#555555',1.9],[cYellow,'#f2c640',1.9],[cGrayLight,'#adadad',1.7],[cGreen,'#8ab560',1.9],[cSteel,'#3f5f85',2.2],[cMain,'#7fb0e0',2.4]]},
 {box:[555,337,936,609], big:true, yTitle:false, label:['(d)',1523.0,-6.9],
  main:['O_4 (TE_3)',1578.4,-11.5, 1580.7,-8.1, 1568.4,-3.4], xt:['O_1–O_3, O_5–O_11',1559.2,-18.1, 1569.5,-19.3, 1563.2,-26.2],
  curves:[[dLightBlue,'#7aa3d6',1.7],[dGray,'#4c4c4c',1.8],[dOrange,'#e08a4a',2],[dBlue,'#4a6fb5',2],[dNavy,'#2e3b58',2.6],[dMain2,'#f7dc7a',2.4],[dMain,'#f1c232',3.2]]},
 {box:[107,664,486,935], big:true, yTitle:true, label:['(e)',1522.6,-6.8],
  main:['O_11 (TE_4)',1578.9,-12.0, 1592.8,-8.7, 1575.9,-3.4], xt:['O_1–O_10',1560.6,-13.8, 1560.4,-14.6, 1544.9,-17.6],
  curves:[[eYellow,'#f0c441',1.6],[eGreen,'#7fb060',1.6],[eOrange,'#e3965a',1.6],[eBlue,'#5b7fc4',1.6],[eNavy,'#2d3f62',1.8],[eGrayLight,'#b8b8b8',1.6],[eSteel,'#4a74a8',2],[eOlive,'#a3993c',2],[eBrown,'#b0693a',2.5],[eMain,'#7fa8d8',2.4]]},
 {box:[555,663,937,930], big:true, yTitle:false, label:['(f)',1523.0,-6.6],
  main:['O_2 (TE_5)',1576.4,-9.7, 1579.0,-6.6, 1563.6,-1.8], xt:['O_1, O_3–O_11',1541.4,-16.3, 1549.8,-17.2, 1542.8,-21.7],
  curves:[[fGrayLight,'#a8a8a8',1.6],[fBlue,'#4672c0',1.8],[fGray,'#6f6f6f',1.8],[fSteel,'#4f6fa0',2],[fSteel2,'#5a80b8',1.9],[fSlate,'#3b4a66',2.3],[fMain,'#5b8fd0',2.4]]},
 {box:[1088,23,1432,260], big:false, yTitle:true, topLabels:[1520,1540,1560,1580,1600], label:['(g)',1522.3,-6.4],
  main:['O_6 (TM_0)',1576.9,-7.3, 1578.2,-4.1, 1571.0,-1.5], xt:['O_1–O_5, O_7–O_11',1542.0,-16.5, 1548.5,-18.1, 1539.1,-24.0],
  curves:[[gOlive,'#b8a040',1.8],[gGray,'#8a8a8a',1.6],[gLightBlue,'#7ea8dc',1.8],[gNavy,'#2e4570',2.1],[gBrown,'#b8693a',2],[gBlue,'#4a78c0',2],[gMain,'#8fbf6f',2.4]]},
 {box:[1494,23,1835,259], big:false, yTitle:false, topLabels:[1560,1580,1600], label:['(h)',1522.3,-6.4],
  main:['O_3 (TM_1)',1573.0,-7.3, 1573.2,-5.1, 1565.4,-2.0], xt:['O_1–O_2, O_4–O_11',1537.7,-13.1, 1547.1,-14.7, 1537.2,-21.5],
  curves:[[hOrange,'#e0905a',1.7],[hNavy,'#2f4060',1.8],[hNavy2,'#2f4060',1.8],[hGreen,'#79b060',1.8],[hYellow,'#efcf4f',1.8],[hLightBlue,'#86b2e6',1.8],[hBlue,'#4d7ad0',1.9],[hBrown,'#b06a40',2],[hMain,'#999999',2.2]]},
 {box:[1086,305,1430,549], big:false, yTitle:true, xTitle:true, label:['(i)',1522.6,-6.4],
  main:['O_8 (TM_2)',1577.4,-7.2, 1578.2,-5.2, 1570.2,-2.5], xt:['O_1–O_7, O_9–O_11',1540.7,-13.1, 1545.9,-14.3, 1538.6,-20.0],
  curves:[[iLightBlue,'#82aede',1.8],[iGrayLight,'#b5b5b5',1.8],[iGray,'#7a7a7a',1.8],[iOlive,'#a8843a',2],[iGreen,'#78b058',2],[iBlue,'#4a72c0',2],[iMain,'#c07850',2.4]]},
 {box:[1489,306,1831,549], big:false, yTitle:false, xTitle:true, label:['(j)',1522.9,-6.3],
  main:['O_1 (TM_3)',1569.2,-7.9, 1570.0,-5.1, 1563.5,-2.3], xt:['O_2–O_11',1542.1,-19.1, 1553.0,-20.4, 1544.1,-27.3],
  curves:[[jLightBlue,'#86b2e6',1.7],[jNavy,'#34476b',1.8],[jNavy2,'#34476b',1.8],[jGreen,'#7ab060',1.8],[jBrown,'#a86a3a',1.8],[jOrange,'#e08850',1.8],[jGrayLight,'#b8b8b8',1.8],[jBlue,'#4a72c0',2],[jMain,'#4a82d0',2.4]]}
];

// ---------- drawing ----------
const svg = d3.select('#chart');
svg.append('rect').attr('width',1847).attr('height',974).attr('fill','#fff');
const SANS = 'Liberation Sans, Arial, sans-serif';

function rich(textSel, str, fs, subScale){
  const sc = subScale || 0.62;
  const toks=[]; let i=0;
  const isIt = k => (str[k]==='O'||str[k]==='R') && str[k+1]==='_';
  while(i<str.length){
    if(isIt(i)){ toks.push({t:str[i],it:true}); i++; continue; }
    if(str[i]==='_'){ let j=i+1; while(j<str.length && /[0-9a-z]/.test(str[j])) j++; toks.push({t:str.slice(i+1,j),sub:true}); i=j; continue; }
    let j=i; while(j<str.length && str[j]!=='_' && !isIt(j)) j++;
    toks.push({t:str.slice(i,j)}); i=j;
  }
  let shifted=false;
  toks.forEach(tk=>{
    const ts=textSel.append('tspan').text(tk.t);
    if(tk.it) ts.attr('font-style','italic');
    if(tk.sub){ ts.attr('font-size',fs*sc).attr('dy',shifted?0:fs*0.22); shifted=true; }
    else if(shifted){ ts.attr('dy',-fs*0.22); shifted=false; }
  });
}

function arrow(g, x1,y1,x2,y2, hl, hw){
  const dx=x2-x1, dy=y2-y1, L=Math.hypot(dx,dy), ux=dx/L, uy=dy/L;
  const bx=x2-ux*hl, by=y2-uy*hl;
  g.append('line').attr('x1',x1).attr('y1',y1).attr('x2',bx+ux*2).attr('y2',by+uy*2).attr('stroke','#000').attr('stroke-width',2.6);
  g.append('path').attr('d',`M${x2},${y2}L${bx-uy*hw/2},${by+ux*hw/2}L${bx+uy*hw/2},${by-ux*hw/2}Z`).attr('fill','#000');
}

panels.forEach((p,pi)=>{
  const [x0,y0,x1,y1]=p.box;
  const x=d3.scaleLinear().domain(xDomain).range([x0,x1]);
  const y=d3.scaleLinear().domain(yDomain).range([y1,y0]);
  const g=svg.append('g');
  const tickFs = p.big?30:25, noteFs = p.big?25:22, labFs = p.big?30:25;
  // grid
  g.selectAll('.gx').data(xTicks.slice(1)).join('line').attr('x1',d=>x(d)).attr('x2',d=>x(d)).attr('y1',y0).attr('y2',y1).attr('stroke','#dedede').attr('stroke-width',1.5);
  g.selectAll('.gy').data(yTicks.slice(1,-1)).join('line').attr('y1',d=>y(d)).attr('y2',d=>y(d)).attr('x1',x0).attr('x2',x1).attr('stroke','#dedede').attr('stroke-width',1.5);
  // curves
  const cid='clip'+pi;
  svg.append('clipPath').attr('id',cid).append('rect').attr('x',x0).attr('y',y0).attr('width',x1-x0).attr('height',y1-y0);
  const cg=g.append('g').attr('clip-path',`url(#${cid})`);
  const line=d3.line().x(d=>x(d[0])).y(d=>y(d[1])).curve(d3.curveMonotoneX);
  p.curves.forEach(([data,col,w])=>{
    cg.append('path').attr('d',line(data)).attr('fill','none').attr('stroke',col).attr('stroke-width',w).attr('stroke-linejoin','round').attr('opacity',0.95);
  });
  // frame
  g.append('rect').attr('x',x0).attr('y',y0).attr('width',x1-x0).attr('height',y1-y0).attr('fill','none').attr('stroke','#000').attr('stroke-width',4);
  // ticks inside
  g.selectAll('.tx').data(xTicks.slice(1)).join('line').attr('x1',d=>x(d)).attr('x2',d=>x(d)).attr('y1',y1).attr('y2',y1-8).attr('stroke','#000').attr('stroke-width',3.5);
  g.selectAll('.ty').data(yTicks.slice(1,-1)).join('line').attr('y1',d=>y(d)).attr('y2',d=>y(d)).attr('x1',x0).attr('x2',x0+8).attr('stroke','#000').attr('stroke-width',3.5);
  // tick labels
  const fmt = d => d<0 ? '\u2212'+Math.abs(d) : String(d);
  g.selectAll('.lx').data(xTicks).join('text').attr('x',d=>x(d)).attr('y',y1+(p.big?33:29)).attr('text-anchor','middle')
    .attr('font-family',SANS).attr('font-size',tickFs).attr('fill','#111').text(d=>d);
  g.selectAll('.ly').data(yTicks).join('text').attr('x',x0-3).attr('y',d=>y(d)).attr('dy','0.36em').attr('text-anchor','end')
    .attr('font-family',SANS).attr('font-size',tickFs).attr('fill','#111').text(fmt);
  if(p.topLabels){
    g.selectAll('.lt').data(p.topLabels).join('text').attr('x',d=>x(d)).attr('y',8).attr('text-anchor','middle')
      .attr('font-family',SANS).attr('font-size',tickFs).attr('fill','#111').text(d=>d);
  }
  if(p.yTitle){
    const cx = p.big ? 28 : x0-72, cy=(y0+y1)/2 + (p.big?37:29);
    g.append('text').attr('transform',`translate(${cx},${cy}) rotate(-90)`).attr('dy','0.35em').attr('text-anchor','middle')
      .attr('font-family',SANS).attr('font-size',p.big?30:26.5).attr('fill','#111').text('Transmission (dB)');
  }
  if(p.xTitle){
    g.append('text').attr('x',(x0+x1)/2-8).attr('y',y1+60).attr('text-anchor','middle')
      .attr('font-family',SANS).attr('font-size',26.5).attr('fill','#111').text('Wavelength (nm)');
  }
  // panel label
  g.append('text').attr('x',x(p.label[1])).attr('y',y(p.label[2])).attr('font-family',SANS).attr('font-size',labFs).attr('fill','#111').text(p.label[0]);
  // annotations
  [p.main,p.xt].forEach(a=>{
    const t=g.append('text').attr('x',x(a[1])).attr('y',y(a[2])).attr('font-family',SANS).attr('font-size',noteFs).attr('fill','#111');
    rich(t,a[0],noteFs);
    arrow(g, x(a[3]),y(a[4]), x(a[5]),y(a[6]), p.big?17:14, p.big?13:11);
  });
  if(pi===4||pi===5){
    g.append('text').attr('x',x0-7).attr('y',y1+55).attr('text-anchor','end').attr('font-family',SANS).attr('font-size',tickFs).attr('fill','#111').text('0');
  }
  if(pi===5){
    g.append('line').attr('x1',878).attr('x2',878).attr('y1',y1+3).attr('y2',974).attr('stroke','#000').attr('stroke-width',2);
  }
});

// caption
const cap = svg.append('g').attr('transform','translate(973,0) scale(1.1,1)');
captionLines.forEach((s,i)=>{
  const t=cap.append('text').attr('x',0).attr('y',688+i*46.4).attr('font-family','Liberation Serif, Times New Roman, serif')
    .attr('font-size',33).attr('font-weight',i<6?'bold':'normal').attr('fill','#000')
    .attr('word-spacing',captionWordSpacing[i]/1.1);
  rich(t,s,33,0.58);
});

// watermark
svg.append('text').attr('transform','translate(505,695) rotate(-38.6)')
  .attr('font-family',SANS).attr('font-size',72).attr('fill','#888').attr('opacity',0.2)
  .text('Front Inform Technol Electron Eng');
</script>
</body></html>
